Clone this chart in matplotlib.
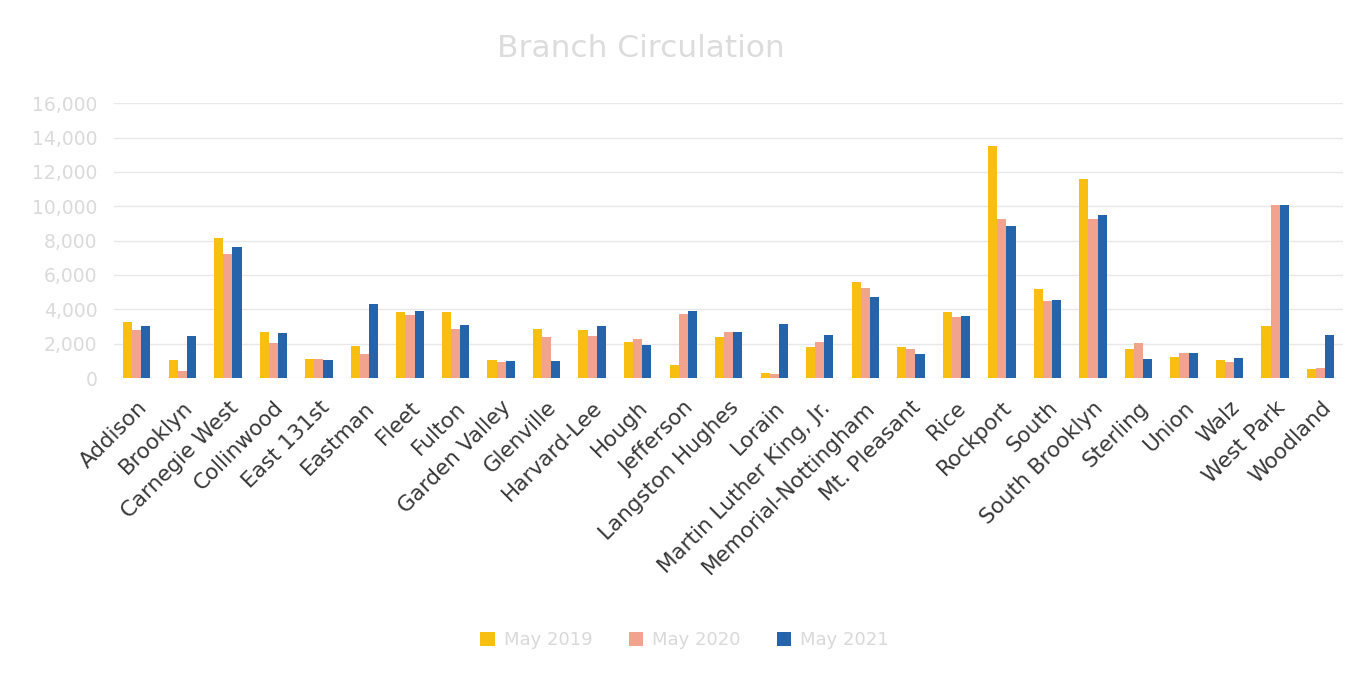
import matplotlib.pyplot as plt
import numpy as np

branches = ["Addison", "Brooklyn", "Carnegie West", "Collinwood", "East 131st",
            "Eastman", "Fleet", "Fulton", "Garden Valley", "Glenville",
            "Harvard-Lee", "Hough", "Jefferson", "Langston Hughes", "Lorain",
            "Martin Luther King, Jr.", "Memorial-Nottingham", "Mt. Pleasant",
            "Rice", "Rockport", "South", "South Brooklyn", "Sterling", "Union",
            "Walz", "West Park", "Woodland"]

may_2019 = [3250, 1060, 8130, 2680, 1120, 1850, 3850, 3850, 1060, 2850,
            2770, 2100, 770, 2400, 270, 1830, 5600, 1790, 3830, 13520,
            5160, 11600, 1660, 1230, 1040, 3040, 540]
may_2020 = [2770, 420, 7240, 2040, 1120, 1390, 3660, 2870, 960, 2390,
            2430, 2270, 3720, 2660, 210, 2120, 5220, 1660, 3560, 9270,
            4470, 9250, 2020, 1430, 910, 10080, 580]
may_2021 = [3010, 2430, 7610, 2620, 1040, 4290, 3890, 3080, 980, 1000,
            3000, 1930, 3930, 2680, 3140, 2500, 4700, 1410, 3640, 8860,
            4530, 9480, 1080, 1430, 1160, 10090, 2490]

series_labels = ["May 2019", "May 2020", "May 2021"]
colors = ["#F8BF12", "#F2A38E", "#2563AA"]

plt.rcParams['font.family'] = ['DejaVu Sans']

fig = plt.figure(figsize=(13.69, 6.75), dpi=100)
ax = fig.add_axes([0.0833, 0.44, 0.898, 0.407])

x = np.arange(len(branches))
w = 0.2
for i, (vals, lab, c) in enumerate(zip([may_2019, may_2020, may_2021], series_labels, colors)):
    ax.bar(x + (i - 1) * w, vals, width=w, color=c, label=lab, zorder=3)

ax.set_xlim(-0.5, len(branches) - 0.5)
ax.set_ylim(0, 16000)
ax.set_yticks(np.arange(0, 16001, 2000))
ax.set_yticklabels([f"{v:,}" for v in range(0, 16001, 2000)], color="#dadada", fontsize=13.5)
ax.set_xticks(x)
ax.set_xticklabels(branches, rotation=45, ha='right', rotation_mode='anchor',
                   fontsize=15.5, color="#383838")
ax.tick_params(axis='both', length=0)
ax.tick_params(axis='x', pad=14)
ax.tick_params(axis='y', pad=12)
ax.grid(axis='y', color="#e8e8e8", linewidth=1, zorder=0)
for s in ax.spines.values():
    s.set_visible(False)

fig.text(0.468, 0.928, "Branch Circulation", ha='center', va='center',
         fontsize=22.5, color="#dcdcdc")

fig.legend(loc='center', bbox_to_anchor=(0.5, 0.052), ncol=3, frameon=False,
           fontsize=13, handlelength=0.8, handleheight=0.8, columnspacing=2.0,
           handletextpad=0.5, labelcolor="#d9d9d9")

fig.savefig("out.png", dpi=100)
